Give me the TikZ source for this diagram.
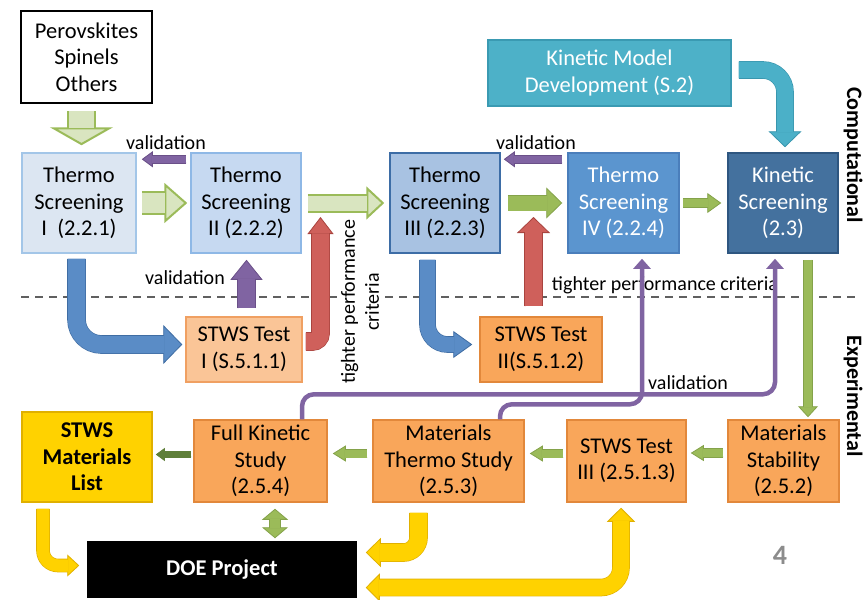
\documentclass[tikz,border=0pt]{standalone}
\usepackage{fontspec}
\setmainfont{Carlito}
\usetikzlibrary{arrows.meta}

\definecolor{tsA}{HTML}{DCE6F2}
\definecolor{tsAline}{HTML}{A3C6E8}
\definecolor{tsB}{HTML}{C6D9F1}
\definecolor{tsBline}{HTML}{8EB8E6}
\definecolor{tsC}{HTML}{A8C2E2}
\definecolor{tsCline}{HTML}{3D6DA6}
\definecolor{tsD}{HTML}{5B95CF}
\definecolor{tsDline}{HTML}{4A7EBB}
\definecolor{ksfill}{HTML}{44719E}
\definecolor{ksline}{HTML}{2E5680}
\definecolor{kmdfill}{HTML}{4DB1C8}
\definecolor{kmdline}{HTML}{3A9AB2}
\definecolor{stwsA}{HTML}{FAC597}
\definecolor{stwsAline}{HTML}{F0A062}
\definecolor{orng}{HTML}{F9A65A}
\definecolor{orngline}{HTML}{E2883B}
\definecolor{gold}{HTML}{FFD200}
\definecolor{goldline}{HTML}{E0B000}
\definecolor{hgreen}{HTML}{D9E5C0}
\definecolor{agreen}{HTML}{9BBB59}
\definecolor{agreenline}{HTML}{84A24A}
\definecolor{dgreen}{HTML}{5F7F3A}
\definecolor{ared}{HTML}{CF605B}
\definecolor{aredline}{HTML}{A9443F}
\definecolor{ablue}{HTML}{5A8CC6}
\definecolor{ablueline}{HTML}{3F6DA3}
\definecolor{ateal}{HTML}{4BB0C8}
\definecolor{atealline}{HTML}{3996AE}
\definecolor{purp}{HTML}{8064A2}
\definecolor{purpline}{HTML}{6A5088}
\definecolor{dashgray}{HTML}{606060}

\begin{document}
\begin{tikzpicture}[x=1pt,y=-1pt]

\tikzset{box/.style = {draw, line width=1.5pt, align=center, inner sep=0pt, font=\fontsize{22.5}{26.5}\selectfont}}
\tikzset{lbl/.style = {inner sep=1pt, font=\fontsize{20}{23}\selectfont}}
\tikzset{side/.style = {rotate=-90, inner sep=0pt, font=\fontsize{22}{24}\selectfont\bfseries}}
\tikzset{blk/.style n args={5}{draw=#1, line width=#3,
  arrows={-Triangle[width=#4,length=#5,fill=#1,color=#2,line width=.8pt]},
  preaction={draw=#2, line width=#3+1.6pt, arrows=-, shorten >=#5-1pt},
  postaction={draw=#1, line width=#3, arrows=-, shorten >=#5-.6pt}}}
\tikzset{hblk/.style n args={3}{draw=hgreen, line width=#1,
  arrows={-Triangle[width=#2,length=#3,fill=hgreen,color=agreen,line width=2pt]},
  preaction={draw=agreen, line width=#1+4pt, arrows=-, shorten >=#3-1pt},
  postaction={draw=hgreen, line width=#1, arrows=-, shorten >=#3-1.2pt}}}
\tikzset{dblk/.style n args={5}{draw=#1, line width=#3,
  arrows={Triangle[width=#4,length=#5,fill=#1,color=#2,line width=.8pt]-Triangle[width=#4,length=#5,fill=#1,color=#2,line width=.8pt]},
  preaction={draw=#2, line width=#3+1.6pt, arrows=-, shorten <=#5-1pt, shorten >=#5-1pt},
  postaction={draw=#1, line width=#3, arrows=-, shorten <=#5-.6pt, shorten >=#5-.6pt}}}
\tikzset{vline/.style = {draw=purp, line width=4.5pt, rounded corners=12pt, -{Triangle[width=17pt,length=10pt]}}}

\useasboundingbox (0,0) rectangle (866,599);

%separator
\draw[dash pattern=on 8pt off 6pt, line width=1.5pt, draw=dashgray] (21,297) -- (858,297);

%boxes
\node[box, draw=black, line width=2.2pt, fill=white, minimum width=131pt, minimum height=92pt] (src) at (86.5,57) {Perovskites\\Spinels\\Others};
\node[box, fill=tsA, draw=tsAline, minimum width=114pt, minimum height=100pt] (ts1) at (79,203) {Thermo\\Screening\\I \ (2.2.1)};
\node[box, fill=tsB, draw=tsBline, minimum width=110pt, minimum height=100pt] (ts2) at (246,203) {Thermo\\Screening\\II (2.2.2)};
\node[box, fill=tsC, draw=tsCline, minimum width=110pt, minimum height=100pt] (ts3) at (445,203) {Thermo\\Screening\\III (2.2.3)};
\node[box, fill=tsD, draw=tsDline, text=white, minimum width=111pt, minimum height=100pt] (ts4) at (623.5,203) {Thermo\\Screening\\IV (2.2.4)};
\node[box, fill=ksfill, draw=ksline, text=white, minimum width=110pt, minimum height=100pt] (ks) at (783,203) {Kinetic\\Screening\\(2.3)};
\node[box, fill=kmdfill, draw=kmdline, text=white, minimum width=243pt, minimum height=66pt] (kmd) at (609.5,73) {Kinetic Model\\Development (S.2)};
\node[box, fill=stwsA, draw=stwsAline, minimum width=116pt, minimum height=65pt] (stws1) at (244,349.5) {STWS Test\\I (S.5.1.1)};
\node[box, fill=orng, draw=orngline, minimum width=122pt, minimum height=65pt] (stws2) at (541,349.5) {STWS Test\\II(S.5.1.2)};
\node[box, fill=gold, draw=goldline, minimum width=130pt, minimum height=90pt, font=\fontsize{22.5}{26.5}\selectfont\bfseries] (list) at (87,457) {STWS\\Materials\\List};
\node[box, fill=orng, draw=orngline, minimum width=133pt, minimum height=82pt] (fks) at (260.5,461) {Full Kinetic\\Study\\(2.5.4)};
\node[box, fill=orng, draw=orngline, minimum width=151pt, minimum height=82pt] (mts) at (448.5,461) {Materials\\Thermo Study\\(2.5.3)};
\node[box, fill=orng, draw=orngline, minimum width=119pt, minimum height=82pt] (stws3) at (626.5,461) {STWS Test\\III (2.5.1.3)};
\node[box, fill=orng, draw=orngline, minimum width=111pt, minimum height=82pt] (ms) at (783.5,461) {Materials\\Stability\\(2.5.2)};
\node[box, fill=black, draw=black, text=white, minimum width=268pt, minimum height=55pt, font=\fontsize{22.5}{26.5}\selectfont\bfseries] (doe) at (222,569.5) {DOE Project};

%labels
\node[lbl] (val1) at (166,143) {validation};
\node[lbl] (val2) at (185,278) {validation};
\node[lbl] (val3) at (536,143) {validation};
\node[lbl] (val4) at (688,383) {validation};
\node[lbl] (crit) at (665,285) {tighter performance criteria};
\node[lbl, fill=white, rotate=90, align=center, font=\fontsize{20}{24}\selectfont] (critv) at (360,302) {tighter performance\\criteria};
\node[side] (comp) at (853,155) {Computational};
\node[side] (expe) at (853,396) {Experimental};
\node[font=\fontsize{28}{30}\selectfont\bfseries, text=gray!90] (page) at (780,555) {4};
\coordinate (crit1) at (320.5,217);
\coordinate (crit2) at (533.5,217);

%edges
\draw[hblk={25pt}{63pt}{18pt}] ([xshift=-5pt,yshift=-7pt]src.south) -- ([xshift=2.5pt,yshift=7pt]ts1.north);
\draw[hblk={20pt}{40pt}{23pt}] ([xshift=5pt]ts1.east) -- ([xshift=-3pt]ts2.west);
\draw[hblk={15pt}{33pt}{18pt}] ([xshift=6pt]ts2.east) -- ([xshift=-5pt]ts3.west);
\draw[blk={agreen}{agreenline}{15pt}{31pt}{16pt}] ([xshift=7pt]ts3.east) -- ([xshift=-5pt]ts4.west);
\draw[blk={agreen}{agreenline}{8pt}{20pt}{14pt}] ([xshift=3pt]ts4.east) -- ([xshift=-6pt]ks.west);
\draw[blk={purp}{purpline}{7pt}{16pt}{11pt}] ([xshift=-4pt,yshift=-7pt]ts2.north west) -- ([xshift=5pt,yshift=-7pt]ts1.north east);
\draw[blk={purp}{purpline}{7pt}{16pt}{11pt}] ([xshift=-5pt,yshift=-7pt]ts4.north west) -- ([xshift=3pt,yshift=-7pt]ts3.north east);
\draw[blk={purp}{purpline}{17pt}{32pt}{20pt}] ([xshift=2.5pt,yshift=8pt]stws1.north) -- ([xshift=.5pt,yshift=-6pt]ts2.south);
\draw[blk={ared}{aredline}{17pt}{26pt}{17pt}, rounded corners=8pt] ([xshift=3pt,yshift=8pt]stws1.east) -| (crit1);
\draw[blk={ared}{aredline}{17pt}{33pt}{16pt}] ([xshift=-7.5pt,yshift=10pt]stws2.north) -- (crit2);
\draw[blk={ablue}{ablueline}{17pt}{39pt}{19pt}, rounded corners=25pt] ([xshift=-2.5pt,yshift=-5pt]ts1.south) |- ([xshift=-3pt,yshift=5pt]stws1.west);
\draw[blk={ablue}{ablueline}{15pt}{27pt}{19pt}, rounded corners=20pt] ([xshift=-17.5pt,yshift=-6pt]ts3.south) |- ([xshift=-7pt,yshift=5pt]stws2.west);
\draw[blk={ateal}{atealline}{16pt}{33pt}{16pt}, rounded corners=22pt] ([xshift=7pt,yshift=3pt]kmd.east) -| ([xshift=2pt,yshift=5pt]ks.north);
\draw[blk={agreen}{agreenline}{8pt}{20pt}{11pt}] ([xshift=25pt,yshift=-6pt]ks.south) -- ([xshift=24.5pt,yshift=2pt]ms.north);
\draw[blk={agreen}{agreenline}{8pt}{16pt}{13pt}] ([xshift=-4pt,yshift=8pt]ms.west) -- ([xshift=4pt,yshift=8pt]stws3.east);
\draw[blk={agreen}{agreenline}{8pt}{16pt}{13pt}] ([xshift=-3pt,yshift=7.5pt]stws3.west) -- ([xshift=5pt,yshift=7.5pt]mts.east);
\draw[blk={agreen}{agreenline}{8pt}{16pt}{13pt}] ([xshift=-5pt,yshift=7.5pt]mts.west) -- ([xshift=5pt,yshift=7.5pt]fks.east);
\draw[blk={dgreen}{dgreen}{5pt}{13pt}{9pt}] ([xshift=-2pt,yshift=6.5pt]fks.west) -- ([xshift=3pt,yshift=2.5pt]list.east);
\draw[dblk={agreen}{agreenline}{10pt}{26pt}{11pt}] ([xshift=14.5pt,yshift=-6pt]fks.south) -- ([xshift=53pt,yshift=3pt]doe.north);
\draw[vline] ([xshift=41.5pt]fks.north) -- ++(0,-25) -| ([xshift=-8pt,yshift=-5pt]ks.south);
\draw[vline] ([xshift=51.5pt]mts.north) -- ++(0,-15) -| ([xshift=18.5pt,yshift=-5pt]ts4.south);
\draw[blk={gold}{goldline}{12pt}{22pt}{12pt}, rounded corners=15pt] ([xshift=-44pt,yshift=-6pt]list.south) |- ([xshift=-8pt,yshift=4pt]doe.west);
\draw[blk={gold}{goldline}{17pt}{29pt}{15pt}, rounded corners=15pt] ([xshift=-30pt,yshift=-10pt]mts.south) |- ([xshift=9pt,yshift=17pt]doe.east);
\draw[dblk={gold}{goldline}{16pt}{28pt}{14pt}, rounded corners=20pt] ([xshift=9pt,yshift=-18pt]doe.east) -| ([xshift=-5.5pt,yshift=-5pt]stws3.south);

\end{tikzpicture}
\end{document}
